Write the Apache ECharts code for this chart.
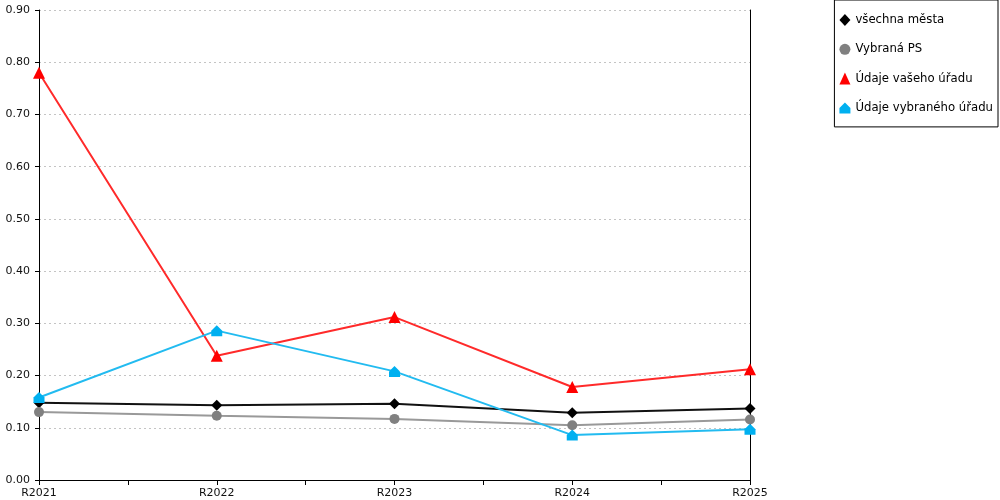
<!DOCTYPE html>
<html>
<head>
<meta charset="UTF-8">
<script src="https://cdn.jsdelivr.net/npm/echarts@6/dist/echarts.min.js"></script>
<style>
html,body{margin:0;padding:0;background:#fff;}
#chart{width:1000px;height:500px;}
</style>
</head>
<body>
<div id="chart"></div>
<script>
var roky = ['R2021', 'R2022', 'R2023', 'R2024', 'R2025'];
var vsechnaMesta = [0.148, 0.143, 0.146, 0.129, 0.137];
var vybranaPS = [0.130, 0.123, 0.117, 0.105, 0.116];
var udajeVasehoUradu = [0.780, 0.238, 0.312, 0.178, 0.212];
var udajeVybranehoUradu = [0.158, 0.286, 0.208, 0.086, 0.097];
var yTicks = [0, 0.1, 0.2, 0.3, 0.4, 0.5, 0.6, 0.7, 0.8, 0.9];

var domek = 'path://M5,0 L10,5 L10,10 L0,10 L0,5 Z';
var pismo = 'DejaVu Sans';

function body(arr) {
	// index kategorie -> hodnota
	return arr.map(function (v, i) { return [i, v]; });
}

function rada(jmeno, data, barva, barvaCary, symbol, velikost) {
	return {
		name: jmeno,
		type: 'line',
		data: body(data),
		symbol: symbol,
		symbolSize: velikost,
		showAllSymbol: true,
		itemStyle: {color: barva},
		lineStyle: {color: barvaCary, width: 2},
		emphasis: {disabled: true},
		animation: false
	};
}

var myChart = echarts.init(document.getElementById('chart'));
myChart.setOption({
	textStyle: {fontFamily: pismo},
	grid: {left: 39, right: 250, top: 10, bottom: 20},
	legend: {
		orient: 'vertical',
		right: 2,
		top: 0,
		padding: [14, 5, 13, 5],
		itemGap: 17.3,
		itemWidth: 11,
		itemHeight: 12,
		borderColor: '#000',
		borderWidth: 1,
		textStyle: {fontFamily: pismo, fontSize: 11.7, color: '#000'},
		data: [
			{name: 'všechna města', icon: 'diamond'},
			{name: 'Vybraná PS', icon: 'circle'},
			{name: 'Údaje vašeho úřadu', icon: 'triangle'},
			{name: 'Údaje vybraného úřadu', icon: domek}
		]
	},
	xAxis: {
		type: 'value',
		min: 0,
		max: roky.length - 1,
		interval: 0.5,
		axisLine: {lineStyle: {color: '#000', width: 1}},
		axisTick: {show: true, length: 5, lineStyle: {color: '#000'}},
		axisLabel: {
			color: '#111', fontSize: 11, margin: 8,
			formatter: function (v) { return v % 1 === 0 ? roky[v] : ''; }
		},
		splitLine: {show: false}
	},
	yAxis: [{
		type: 'value',
		min: yTicks[0],
		max: yTicks[yTicks.length - 1],
		interval: 0.1,
		axisLine: {show: true, lineStyle: {color: '#000'}},
		axisTick: {show: true, length: 4, lineStyle: {color: '#000'}},
		axisLabel: {
			color: '#111', fontSize: 11, margin: 9,
			formatter: function (v) { return v.toFixed(2); }
		},
		splitLine: {lineStyle: {color: '#c4c4c4', type: [2, 3]}}
	}, {
		type: 'value',
		position: 'right',
		min: 0,
		max: 0.9,
		axisLine: {show: true, lineStyle: {color: '#000'}},
		axisTick: {show: false},
		axisLabel: {show: false},
		splitLine: {show: false}
	}],
	series: [
		rada('všechna města', vsechnaMesta, '#000000', '#111111', 'diamond', 11),
		rada('Vybraná PS', vybranaPS, '#808080', '#999999', 'circle', 10),
		rada('Údaje vašeho úřadu', udajeVasehoUradu, '#ff0000', '#ff2a2a', 'triangle', 12),
		rada('Údaje vybraného úřadu', udajeVybranehoUradu, '#00b0f0', '#22bbf0', domek, 11)
	]
});
</script>
</body>
</html>
